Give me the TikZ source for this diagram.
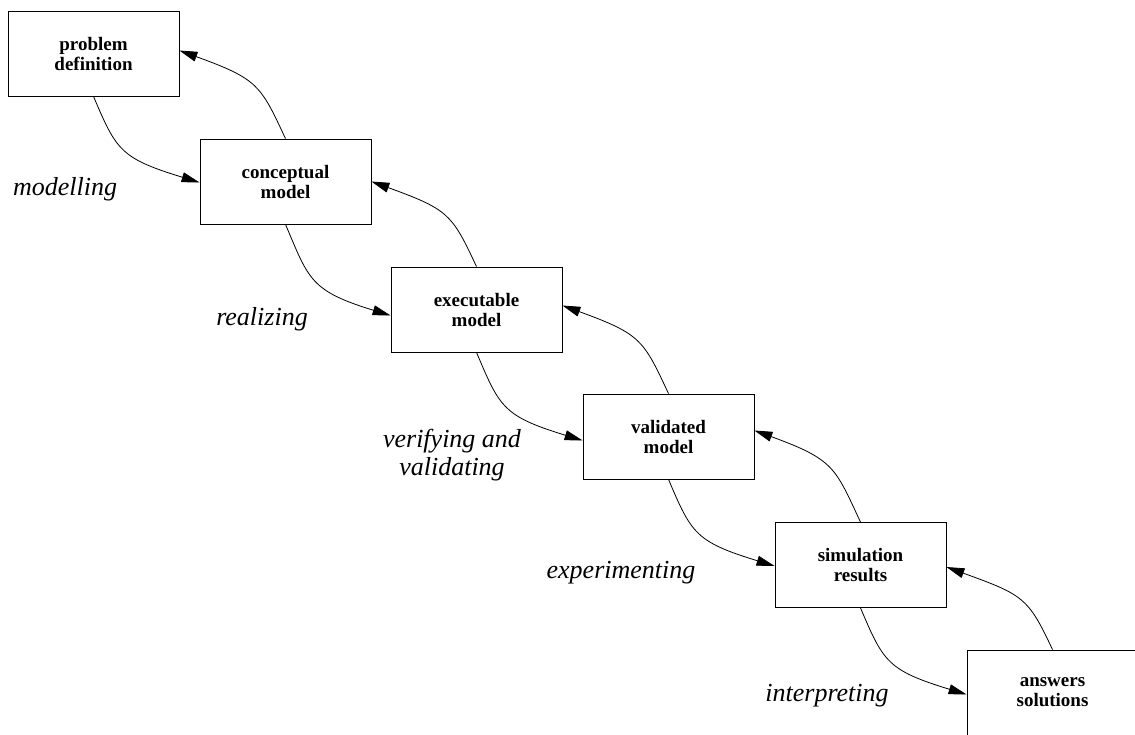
\documentclass[tikz,border=0pt]{standalone}
\usepackage{fontspec}
\setmainfont{Liberation Serif}
\usetikzlibrary{arrows.meta}
\tikzset{
  stage/.style={draw, line width=0.8pt, minimum width=171pt, minimum height=85pt,
    align=center, inner sep=0pt, font=\fontsize{19}{20}\selectfont\bfseries},
  act/.style={align=center, font=\fontsize{26}{28}\selectfont\itshape},
  fwd/.style={line width=0.8pt, -{Triangle[length=18pt,width=10pt]}, out=-67, in=163,
    out looseness=1.1, in looseness=1.55},
  bwd/.style={line width=0.8pt, -{Triangle[length=18pt,width=10pt]}, out=115, in=-20,
    out looseness=1.1, in looseness=1.55}
}
\begin{document}
\begin{tikzpicture}[x=1pt,y=-1pt]
\useasboundingbox (0,0) rectangle (1135,734);
\clip (0,0) rectangle (1135,734);
\node[stage] (p) at (93.5,53.5) {problem\\definition};
\node[stage] (c) at (285.5,181.5) {conceptual\\model};
\node[stage] (e) at (476.5,309.5) {executable\\model};
\node[stage] (v) at (668.5,436.5) {validated\\model};
\node[stage] (s) at (860.5,565) {simulation\\results};
\node[stage] (a) at (1052.5,692.5) {answers\\solutions};

\node[act] (l1) at (65,189) {modelling};
\node[act] (l2) at (262,319) {realizing};
\node[act] (l3) at (452,455) {verifying and\\validating};
\node[act] (l4) at (621,573) {experimenting};
\node[act] (l5) at (827,696) {interpreting};

\draw[fwd] (p.south) to ([yshift=-1pt]c.west);
\draw[fwd] (c.south) to ([yshift=-6pt]e.west);
\draw[fwd] (e.south) to ([yshift=-4pt]v.west);
\draw[fwd] (v.south) to ([yshift=-1pt]s.west);
\draw[fwd] (s.south) to ([yshift=-2pt]a.west);

\draw[bwd] (c.north) to ([yshift=3pt]p.east);
\draw[bwd] (e.north) to (c.east);
\draw[bwd] (v.north) to ([yshift=4pt]e.east);
\draw[bwd] (s.north) to ([yshift=6pt]v.east);
\draw[bwd] (a.north) to ([yshift=-2pt]s.east);
\end{tikzpicture}
\end{document}
